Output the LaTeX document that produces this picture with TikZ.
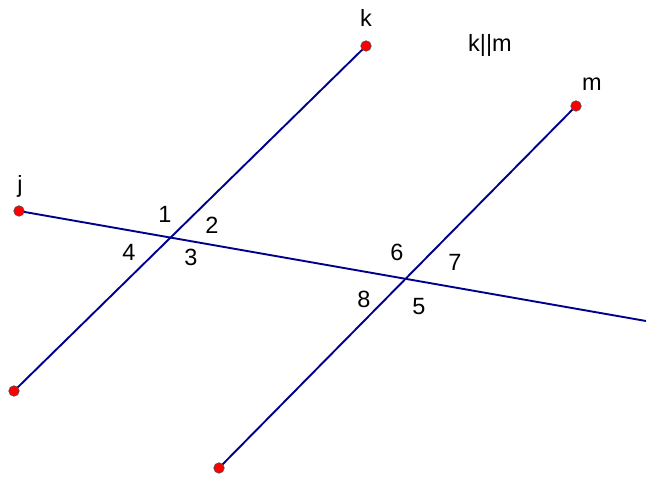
\documentclass[tikz,border=0pt]{standalone}
\usepackage{fontspec}
\setmainfont{Liberation Sans}
\begin{document}
\begin{tikzpicture}[x=1pt,y=-1pt,
  ln/.style={draw={rgb,255:red,0;green,0;blue,140},line width=1.9pt},
  pt/.style={circle,fill=red,draw=black!70,line width=0.6pt,inner sep=0pt,minimum size=10.5pt},
  lbl/.style={inner sep=0pt,font=\fontsize{23.5}{27}\selectfont}]
\useasboundingbox (0,0) rectangle (646,478);
\coordinate (ka) at (366,46);
\coordinate (kb) at (14,391);
\coordinate (ma) at (576,106);
\coordinate (mb) at (219,468);
\coordinate (ja) at (19,211);
\coordinate (jb) at (646,321);
\draw[ln] (ka) -- (kb);
\draw[ln] (ma) -- (mb);
\draw[ln] (ja) -- (jb);
\node[pt] (pka) at (ka) {};
\node[pt] (pkb) at (kb) {};
\node[pt] (pma) at (ma) {};
\node[pt] (pmb) at (mb) {};
\node[pt] (pja) at (ja) {};
\node[lbl] (lk) at (366,18) {k};
\node[lbl] (lm) at (592,84) {m};
\node[lbl] (lj) at (20,186) {j};
\node[lbl] (lkm) at (490,45) {k||m};
\node[lbl] (a1) at (165,214) {1};
\node[lbl] (a2) at (212,225) {2};
\node[lbl] (a4) at (129,252) {4};
\node[lbl] (a3) at (191,257) {3};
\node[lbl] (a6) at (397,252) {6};
\node[lbl] (a7) at (455,262) {7};
\node[lbl] (a8) at (364,299) {8};
\node[lbl] (a5) at (419,307) {5};
\end{tikzpicture}
\end{document}
